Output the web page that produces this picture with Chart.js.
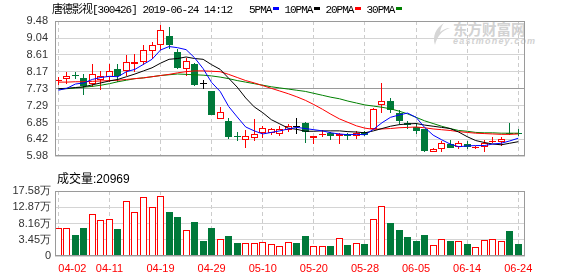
<!DOCTYPE html>
<html>
<head>
<meta charset="utf-8">
<script src="https://cdn.jsdelivr.net/npm/chart.js@4.4.0/dist/chart.umd.min.js"></script>
<style>
  html, body { margin: 0; padding: 0; background: #fff; }
  #wrap { position: relative; width: 578px; height: 276px; overflow: hidden; }
  canvas { position: absolute; left: 0; }
  #price { top: 0; }
  #volume { top: 170px; }
  #head { position: absolute; left: 52px; top: 3px; font: 11px/14px 'Liberation Mono', 'Noto Sans CJK SC', monospace; letter-spacing: -1px; color: #000; white-space: nowrap; }
  #legend { position: absolute; left: 249px; top: 3px; font: 11px/14px 'Liberation Mono', monospace; letter-spacing: -1px; color: #000; white-space: nowrap; }
  #legend i { display: inline-block; width: 6px; height: 3px; margin: 0 5px 0 2px; vertical-align: 3px; }
  #vol-title { position: absolute; left: 57px; top: 172px; font: 12px/14px 'Liberation Sans', 'Noto Sans CJK SC', sans-serif; color: #000; white-space: nowrap; }
  #wm { position: absolute; left: 453px; top: 21px; color: #d2d2d2; white-space: nowrap; }
  #wm .cn { font: bold 14.5px/16px 'Noto Sans CJK SC', sans-serif; }
  #wm .en { font: bold italic 9px/9px 'Liberation Sans', sans-serif; letter-spacing: 1.2px; }
  #logo { position: absolute; left: 429px; top: 22px; }
</style>
</head>
<body>
<div id="wrap">
  <svg id="logo" width="24" height="24"><path d="M15 1 C7 6 3 14 6 23 C8 15 12 9 21 6 C17 6 14 8 11 10 C12 6 13 3 15 1Z" fill="#d6d6d6"/></svg>
  <div id="wm"><div class="cn">东方财富网</div><div class="en">eastmoney.com</div></div>
  <canvas id="price" width="578" height="170"></canvas>
  <canvas id="volume" width="578" height="106"></canvas>
  <div id="head">唐德影视[300426] 2019-06-24 14:12</div>
  <div id="legend"></div>
  <div id="vol-title">成交量:20969</div>
</div>
<script>
// 交易日
const dates = ['04-02','04-03','04-04','04-08','04-09','04-10','04-11','04-12','04-15','04-16',
  '04-17','04-18','04-19','04-22','04-23','04-24','04-25','04-26','04-29','04-30',
  '05-06','05-07','05-08','05-09','05-10','05-13','05-14','05-15','05-16','05-17',
  '05-20','05-21','05-22','05-23','05-24','05-27','05-28','05-29','05-30','05-31',
  '06-03','06-04','06-05','06-06','06-10','06-11','06-12','06-13','06-14','06-17',
  '06-18','06-19','06-20','06-21','06-24'];

// K线 (开/收/高/低)
const openPx = [7.94,7.98,8.08,8.00,7.84,7.95,8.03,8.25,8.19,8.37,8.41,8.70,8.87,9.08,8.69,8.24,8.37,7.84,7.67,6.95,
  6.90,6.49,6.41,6.45,6.59,6.59,6.57,6.65,6.75,6.85,6.45,6.53,6.59,6.52,6.57,6.51,6.61,6.68,7.30,7.42,
  7.10,6.85,6.73,6.68,6.10,6.18,6.31,6.23,6.31,6.20,6.23,6.35,6.35,6.59,6.58];
const closePx = [7.95,8.05,8.07,7.80,8.10,8.07,8.20,8.05,8.41,8.41,8.74,8.85,9.24,8.87,8.27,8.45,7.82,7.84,7.05,7.14,
  6.49,6.48,6.52,6.57,6.72,6.69,6.70,6.77,6.75,6.61,6.52,6.57,6.52,6.56,6.52,6.59,6.53,7.20,7.42,7.19,
  6.90,6.79,6.64,6.13,6.17,6.33,6.21,6.33,6.23,6.21,6.33,6.38,6.43,6.55,6.57];
const highPx = [8.02,8.17,8.15,8.11,8.37,8.19,8.37,8.37,8.61,8.62,8.85,8.95,9.37,9.33,8.75,8.53,8.39,7.95,7.67,7.26,
  6.96,6.61,6.67,6.94,6.77,6.72,6.77,6.81,6.96,6.87,6.52,6.65,6.61,6.59,6.59,6.64,6.64,7.22,7.89,7.50,
  7.18,6.90,6.85,6.68,6.21,6.37,6.41,6.37,6.37,6.25,6.41,6.49,6.47,6.85,6.69];
const lowPx = [7.82,7.86,7.97,7.58,7.77,7.69,7.91,7.91,8.07,8.17,8.35,8.51,8.72,8.75,8.25,8.07,7.80,7.72,7.05,6.95,
  6.43,6.39,6.21,6.37,6.45,6.53,6.51,6.61,6.56,6.33,6.29,6.49,6.41,6.29,6.41,6.43,6.51,6.68,7.10,7.10,
  6.81,6.68,6.57,6.10,6.09,6.09,6.21,6.17,6.17,6.17,6.10,6.33,6.25,6.53,6.51];

// 均线
const ma5 = [7.69,7.74,7.85,7.88,7.97,8.02,8.05,8.04,8.17,8.23,8.36,8.49,8.73,8.82,8.79,8.74,8.53,8.25,7.89,7.66,
  7.27,7.00,6.74,6.64,6.56,6.60,6.64,6.69,6.73,6.70,6.67,6.64,6.59,6.56,6.54,6.55,6.54,6.68,6.85,6.99,
  7.05,7.10,6.99,6.73,6.53,6.41,6.30,6.23,6.25,6.26,6.26,6.30,6.32,6.38,6.45];
const ma10 = [7.73,7.74,7.76,7.78,7.83,7.88,7.93,7.97,8.04,8.11,8.19,8.27,8.39,8.49,8.51,8.55,8.51,8.49,8.35,8.23,
  8.00,7.77,7.49,7.26,7.11,6.93,6.82,6.71,6.68,6.63,6.63,6.64,6.64,6.64,6.62,6.61,6.59,6.64,6.70,6.76,
  6.80,6.82,6.83,6.79,6.76,6.73,6.70,6.61,6.49,6.39,6.34,6.30,6.28,6.32,6.36];
const ma20 = [7.90,7.90,7.91,7.91,7.92,7.93,7.94,7.95,7.97,7.99,8.01,8.04,8.07,8.10,8.14,8.17,8.19,8.19,8.18,8.17,
  8.10,8.02,7.94,7.88,7.81,7.74,7.67,7.60,7.52,7.43,7.32,7.20,7.07,6.95,6.86,6.77,6.71,6.68,6.69,6.70,
  6.72,6.73,6.74,6.72,6.69,6.67,6.65,6.62,6.60,6.58,6.57,6.56,6.55,6.55,6.56];
const ma30 = [7.72,7.73,7.75,7.77,7.79,7.82,7.86,7.91,7.95,7.99,8.01,8.04,8.07,8.09,8.11,8.10,8.09,8.08,8.06,8.03,
  7.99,7.94,7.90,7.86,7.82,7.78,7.75,7.72,7.69,7.66,7.61,7.56,7.51,7.47,7.41,7.36,7.31,7.28,7.25,7.21,
  7.15,7.08,6.99,6.90,6.83,6.76,6.70,6.65,6.63,6.60,6.59,6.59,6.58,6.58,6.58];

// 成交量 (万手)
const volume = [6.77,6.77,4.83,6.77,10.91,9.18,9.47,6.57,14.59,11.40,15.75,12.86,16.13,11.49,10.05,6.19,8.60,3.18,6.95,3.67,
  4.63,2.60,2.60,2.60,2.89,2.22,1.64,2.89,2.60,4.63,1.64,1.64,1.64,3.96,1.93,2.60,2.31,9.47,13.23,8.39,
  6.28,4.25,3.09,4.83,1.84,3.58,3.09,3.09,2.22,1.35,3.29,3.58,3.09,5.99,2.10];

// 坐标轴刻度
const priceTicks = [5.98, 6.42, 6.85, 7.29, 7.73, 8.17, 8.61, 9.04, 9.48];
const volTickValues = [-1.26, 3.45, 8.16, 12.87, 17.58];
const volTickLabels = ['0', '3.45万', '8.16万', '12.87万', '17.58万'];
const xTickLabels = ['04-02','04-11','04-19','04-29','05-10','05-20','05-28','06-05','06-14','06-24'];
const maNames = ['5PMA', '10PMA', '20PMA', '30PMA'];

const RED = '#ff0000', GREEN = '#00793a', BLACK = '#000000';
const MA_COLORS = ['#0000ff', '#000000', '#ff0000', '#008000'];
const X_MIN = -0.39, X_MAX = 54.79;
const tickIdx = xTickLabels.map(l => dates.indexOf(l));
const labelFont = { family: 'Liberation Sans', size: 11 };

function candleColor(i) {
  if (closePx[i] > openPx[i]) return RED;
  if (closePx[i] < openPx[i]) return GREEN;
  return BLACK;
}
const edgeColors = dates.map((d, i) => candleColor(i));
const bodyFill = dates.map((d, i) => closePx[i] > openPx[i] ? '#ffffff' : candleColor(i));
const volEdge = dates.map((d, i) => closePx[i] > openPx[i] ? RED : GREEN);
const volFill = dates.map((d, i) => closePx[i] > openPx[i] ? '#ffffff' : GREEN);

// 外框
const framePlugin = {
  id: 'frame',
  afterDatasetsDraw(chart) {
    const { ctx, chartArea: a } = chart;
    ctx.save();
    ctx.strokeStyle = '#9a9a9a';
    ctx.lineWidth = 1;
    ctx.strokeRect(Math.round(a.left) + 0.5, Math.round(a.top) + 0.5,
      Math.round(a.right - a.left) - 1, Math.round(a.bottom - a.top) - 1);
    ctx.restore();
  }
};

// 柱子对齐到整像素, 边缘不发虚
const snapPlugin = {
  id: 'snap',
  beforeDatasetsDraw(chart) {
    chart.getSortedVisibleDatasetMetas().forEach(meta => {
      if (meta.type !== 'bar') return;
      meta.data.forEach(el => {
        const odd = Math.round(el.width) % 2 === 1;
        el.x = odd ? Math.floor(el.x) + 0.5 : Math.round(el.x);
        el.y = Math.round(el.y);
        el.base = Math.round(el.base);
        if (el.y === el.base) el.y = el.base - 1;
      });
    });
  }
};

function xAxis(showLabels) {
  return {
    type: 'linear',
    min: X_MIN,
    max: X_MAX,
    offset: false,
    afterBuildTicks: s => { s.ticks = tickIdx.map(v => ({ value: v })).concat([{ value: X_MAX }]); },
    afterFit: s => { s.height = showLabels ? 20 : 0; },
    grid: {
      offset: false,
      drawTicks: false,
      color: c => (c.tick && c.tick.value === X_MAX) ? 'rgba(0,0,0,0)' : '#cccccc'
    },
    border: { display: false, dash: [4, 3] },
    ticks: {
      display: showLabels,
      autoSkip: false,
      maxRotation: 0,
      align: 'inner',
      padding: 6,
      color: RED,
      font: labelFont,
      callback: v => Number.isInteger(v) ? dates[v] : ''
    }
  };
}

const pt = (arr) => arr.map((v, i) => ({ x: i, y: v }));

const priceChart = new Chart(document.getElementById('price'), {
  type: 'bar',
  data: {
    datasets: [
      ...[ma5, ma10, ma20, ma30].map((arr, k) => ({
        type: 'line',
        label: maNames[k],
        data: pt(arr),
        borderColor: MA_COLORS[k],
        borderWidth: 1,
        pointRadius: 0,
        tension: 0,
        order: 0
      })),
      {
        label: 'body',
        data: dates.map((d, i) => ({ x: i, y: [openPx[i], closePx[i]] })),
        backgroundColor: bodyFill,
        borderColor: edgeColors,
        borderWidth: 1,
        borderSkipped: false,
        inflateAmount: 0,
        barThickness: 7,
        minBarLength: 1,
        grouped: false,
        order: 1
      },
      {
        label: 'wick',
        data: dates.map((d, i) => ({ x: i, y: [lowPx[i], highPx[i]] })),
        backgroundColor: edgeColors,
        borderWidth: 0,
        inflateAmount: 0,
        barThickness: 1,
        grouped: false,
        order: 2
      }
    ]
  },
  options: {
    responsive: false,
    animation: false,
    layout: { padding: { top: 21, right: 53, bottom: 4, left: 0 } },
    plugins: { legend: { display: false }, tooltip: { enabled: false } },
    scales: {
      x: xAxis(false),
      y: {
        min: priceTicks[0],
        max: priceTicks[priceTicks.length - 1],
        afterBuildTicks: s => { s.ticks = priceTicks.map(v => ({ value: v })); },
        afterFit: s => { s.width = 55; },
        grid: {
          drawTicks: false,
          color: c => (c.tick && c.tick.value === 7.73) ? '#9a9a9a' : '#d4d4d4'
        },
        border: { display: false },
        ticks: { color: '#333', padding: 7, font: labelFont, callback: v => v.toFixed(2) }
      }
    }
  },
  plugins: [snapPlugin, framePlugin]
});

const volumeChart = new Chart(document.getElementById('volume'), {
  type: 'bar',
  data: {
    datasets: [{
      label: '成交量',
      data: pt(volume),
      base: volTickValues[0],
      backgroundColor: volFill,
      borderColor: volEdge,
      borderWidth: 1,
      borderSkipped: false,
      inflateAmount: 0,
      barThickness: 7,
      grouped: false
    }]
  },
  options: {
    responsive: false,
    animation: false,
    layout: { padding: { top: 21, right: 53, bottom: 0, left: 0 } },
    plugins: { legend: { display: false }, tooltip: { enabled: false } },
    scales: {
      x: xAxis(true),
      y: {
        min: volTickValues[0],
        max: volTickValues[volTickValues.length - 1],
        afterBuildTicks: s => { s.ticks = volTickValues.map(v => ({ value: v })); },
        afterFit: s => { s.width = 55; },
        grid: { drawTicks: false, color: '#d4d4d4' },
        border: { display: false },
        ticks: { color: '#333', padding: 4, font: labelFont, callback: (v, i) => volTickLabels[i] }
      }
    }
  },
  plugins: [snapPlugin, framePlugin]
});

// 图例
const legendEl = document.getElementById('legend');
priceChart.data.datasets.filter(d => d.type === 'line').forEach(d => {
  const s = document.createElement('span');
  s.textContent = d.label;
  const box = document.createElement('i');
  box.style.background = d.borderColor;
  legendEl.appendChild(s);
  legendEl.appendChild(box);
});
</script>
</body>
</html>
